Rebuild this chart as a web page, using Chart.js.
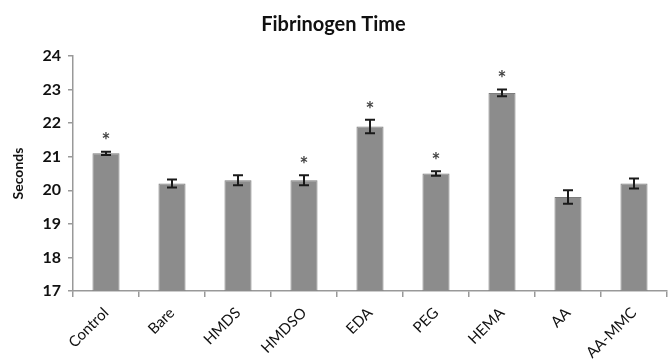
<!DOCTYPE html>
<html lang="en">
<head>
    <meta charset="UTF-8">
    <title>Fibrinogen Time</title>
    <style>
        html, body { margin: 0; padding: 0; background: #fff; }
        #wrap { width: 668px; height: 363px; }
    </style>
</head>
<body>
    <div id="wrap"><canvas id="chart"></canvas></div>
    <script src="https://cdn.jsdelivr.net/npm/chart.js@4.4.0/dist/chart.umd.min.js"></script>
    <script>
        const categories = ["Control", "Bare", "HMDS", "HMDSO", "EDA", "PEG", "HEMA", "AA", "AA-MMC"];
        const seconds = [21.1, 20.2, 20.3, 20.3, 21.9, 20.5, 22.9, 19.8, 20.2];
        const errors = [0.05, 0.12, 0.15, 0.15, 0.2, 0.07, 0.1, 0.2, 0.15];
        const significant = [true, false, false, true, true, true, true, false, false];
        const yTicks = [17, 18, 19, 20, 21, 22, 23, 24];

        const fontFamily = "Lato, 'Open Sans', sans-serif";

        // error bars and asterisks drawn on top of the bars
        const errorBars = {
            id: "errorBars",
            afterDatasetsDraw(chart) {
                const ctx = chart.ctx;
                const x = chart.scales.x;
                const y = chart.scales.y;
                ctx.save();
                ctx.strokeStyle = "#1a1a1a";
                ctx.lineWidth = 2;
                for (let i = 0; i < seconds.length; i++) {
                    const cx = x.getPixelForValue(i);
                    const top = y.getPixelForValue(seconds[i] + errors[i]);
                    const bot = y.getPixelForValue(seconds[i] - errors[i]);
                    ctx.beginPath();
                    ctx.moveTo(cx, top); ctx.lineTo(cx, bot);
                    ctx.moveTo(cx - 5, top); ctx.lineTo(cx + 5, top);
                    ctx.moveTo(cx - 5, bot); ctx.lineTo(cx + 5, bot);
                    ctx.stroke();
                    if (significant[i]) {
                        ctx.fillStyle = "#444";
                        ctx.font = "bold 21px " + fontFamily;
                        ctx.textAlign = "center";
                        ctx.textBaseline = "middle";
                        ctx.fillText("*", cx, top - 10);
                    }
                }
                ctx.restore();
            }
        };

        new Chart("chart", {
            type: "bar",
            data: {
                labels: categories,
                datasets: [{
                    data: seconds,
                    backgroundColor: "#8c8c8c",
                    borderColor: "#7c7c7c",
                    borderWidth: 1,
                    categoryPercentage: 0.82,
                    barPercentage: 0.5
                }]
            },
            options: {
                responsive: true,
                maintainAspectRatio: false,
                animation: false,
                layout: { padding: { left: 0, right: 1, top: 0, bottom: 0 } },
                plugins: {
                    legend: { display: false },
                    tooltip: { enabled: false },
                    title: {
                        display: true,
                        text: "Fibrinogen Time",
                        color: "#111",
                        font: { family: fontFamily, size: 20, weight: "bold" },
                        padding: { top: 13, bottom: 19 }
                    }
                },
                scales: {
                    x: {
                        offset: true,
                        border: { color: "#999", width: 1.5 },
                        grid: { offset: true, drawOnChartArea: false, drawTicks: true, tickLength: 6, color: "#999", lineWidth: 1.5 },
                        ticks: {
                            color: "#111",
                            maxRotation: 45,
                            minRotation: 45,
                            padding: 7,
                            font: { family: fontFamily, size: 15 }
                        },
                        afterFit(scale) { scale.height = 72; }
                    },
                    y: {
                        min: 17,
                        max: 24,
                        afterBuildTicks(scale) { scale.ticks = yTicks.map(v => ({ value: v })); },
                        border: { color: "#999", width: 1.5 },
                        grid: { drawOnChartArea: false, drawTicks: true, tickLength: 5, color: "#999", lineWidth: 1.5 },
                        ticks: {
                            color: "#111",
                            padding: 7,
                            font: { family: fontFamily, size: 16, weight: "bold" }
                        },
                        title: {
                            display: true,
                            text: "Seconds",
                            color: "#111",
                            padding: { top: 10, bottom: 0 },
                            font: { family: fontFamily, size: 14, weight: "bold" }
                        },
                        afterFit(scale) { scale.width = 73; }
                    }
                }
            },
            plugins: [errorBars]
        });
    </script>
</body>
</html>
